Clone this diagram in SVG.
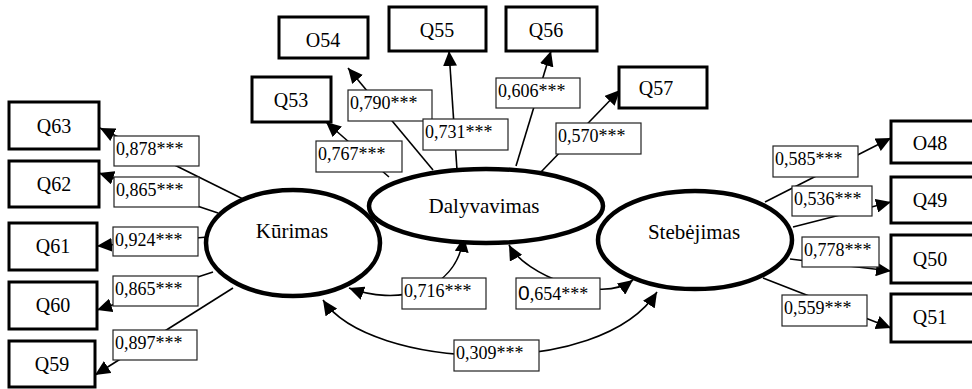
<svg xmlns="http://www.w3.org/2000/svg" width="972" height="389" viewBox="0 0 972 389" font-family="'Liberation Serif', 'Times New Roman', serif">
  <style>
    .box { fill: #fff; stroke: #000; stroke-width: 3; }
    .latent { fill: #fff; stroke: #000; stroke-width: 4.5; }
    .tag { fill: #fff; stroke: #222; stroke-width: 1.2; }
    .link { fill: none; stroke: #000; stroke-width: 1.6; }
    .arrow { marker-end: url(#head); }
    .both { marker-start: url(#head); marker-end: url(#head); }
    text { fill: #000; font-family: "Liberation Serif", "Times New Roman", serif; }
    .name { font-size: 20px; text-anchor: middle; }
    .lname { font-size: 21px; text-anchor: middle; }
    .coef { font-size: 18px; }
  </style>
  <defs>
    <marker id="head" markerUnits="userSpaceOnUse" markerWidth="16" markerHeight="14" refX="15" refY="7" orient="auto-start-reverse">
      <path d="M0,0 L15,7 L0,14 z" fill="#000"/>
    </marker>
  </defs>

  <rect width="972" height="389" fill="#fff"/>

  <!-- loadings and correlations -->
  <g id="connectors">
    <!-- Kūrimas indicators -->
    <path class="link arrow" d="M243,199 L100,128"/>
    <path class="link arrow" d="M218,213 L99,173"/>
    <path class="link arrow" d="M208,237 L97,246"/>
    <path class="link arrow" d="M213,272 L97,310"/>
    <path class="link arrow" d="M233,288 L95,375"/>
    <!-- Dalyvavimas indicators -->
    <path class="link arrow" d="M389,177 L326,122"/>
    <path class="link arrow" d="M433,170 L348,68"/>
    <path class="link arrow" d="M457,170 L449,51"/>
    <path class="link arrow" d="M516,166 L551,51"/>
    <path class="link arrow" d="M540,173 L620,90"/>
    <!-- Stebėjimas indicators -->
    <path class="link arrow" d="M765,202 L891,138"/>
    <path class="link arrow" d="M793,227 L891,202"/>
    <path class="link arrow" d="M790,259 L891,271"/>
    <path class="link arrow" d="M763,278 L891,328"/>
    <!-- correlations between factors -->
    <path class="link both" d="M349,288 C395,305 455,295 464,237"/>
    <path class="link both" d="M509,245 C525,275 600,305 633,280"/>
    <path class="link both" d="M323,300 C370,370 600,380 657,292"/>
  </g>

  <g id="coefficients">
    <rect class="tag" x="114" y="136" width="85" height="30"/><text class="coef" x="116" y="155">0,878***</text>
    <rect class="tag" x="114" y="177" width="85" height="30"/><text class="coef" x="116" y="196">0,865***</text>
    <rect class="tag" x="113" y="227" width="85" height="29"/><text class="coef" x="115" y="246">0,924***</text>
    <rect class="tag" x="113" y="276" width="85" height="30"/><text class="coef" x="115" y="295">0,865***</text>
    <rect class="tag" x="113" y="330" width="84" height="30"/><text class="coef" x="115" y="349">0,897***</text>

    <rect class="tag" x="316" y="141" width="86" height="31"/><text class="coef" x="318" y="160">0,767***</text>
    <rect class="tag" x="348" y="90" width="84" height="31"/><text class="coef" x="350" y="109">0,790***</text>
    <rect class="tag" x="423" y="119" width="85" height="31"/><text class="coef" x="425" y="138">0,731***</text>
    <rect class="tag" x="496" y="78" width="84" height="30"/><text class="coef" x="498" y="97">0,606***</text>
    <rect class="tag" x="556" y="123" width="85" height="31"/><text class="coef" x="558" y="142">0,570***</text>

    <rect class="tag" x="773" y="146" width="85" height="31"/><text class="coef" x="775" y="165">0,585***</text>
    <rect class="tag" x="792" y="186" width="80" height="30"/><text class="coef" x="794" y="205">0,536***</text>
    <rect class="tag" x="802" y="237" width="77" height="30"/><text class="coef" x="804" y="256">0,778***</text>
    <rect class="tag" x="782" y="295" width="85" height="31"/><text class="coef" x="784" y="314">0,559***</text>

    <rect class="tag" x="402" y="278" width="84" height="31"/><text class="coef" x="404" y="297">0,716***</text>
    <rect class="tag" x="516" y="278" width="84" height="31"/><text class="coef" x="518" y="300"><tspan style="font-family: 'Liberation Sans', Arial, sans-serif; font-size: 21px">0</tspan>,654***</text>
    <rect class="tag" x="454" y="340" width="85" height="31"/><text class="coef" x="456" y="359">0,309***</text>
  </g>

  <!-- latent factors -->
  <g id="kurimas">
    <ellipse class="latent" cx="293" cy="243" rx="87" ry="53"/>
    <text class="lname" x="292" y="238">Kūrimas</text>
  </g>
  <g id="dalyvavimas">
    <ellipse class="latent" cx="486" cy="206" rx="117" ry="37"/>
    <text class="lname" x="484" y="213">Dalyvavimas</text>
  </g>
  <g id="stebejimas">
    <ellipse class="latent" cx="695" cy="240" rx="97" ry="49"/>
    <text class="lname" x="694" y="239">Stebėjimas</text>
  </g>

  <!-- observed items -->
  <g id="q63"><rect class="box" x="9" y="102" width="90" height="47"/><text class="name" x="54" y="133">Q63</text></g>
  <g id="q62"><rect class="box" x="9" y="161" width="90" height="46"/><text class="name" x="54" y="191">Q62</text></g>
  <g id="q61"><rect class="box" x="9" y="223" width="88" height="47"/><text class="name" x="53" y="253">Q61</text></g>
  <g id="q60"><rect class="box" x="9" y="282" width="88" height="47"/><text class="name" x="53" y="312">Q60</text></g>
  <g id="q59"><rect class="box" x="9" y="341" width="86" height="46"/><text class="name" x="52" y="371">Q59</text></g>

  <g id="q53"><rect class="box" x="252" y="77" width="79" height="45"/><text class="name" x="291" y="107">Q53</text></g>
  <g id="o54"><rect class="box" x="279" y="17" width="89" height="41"/><text class="name" x="323" y="47">O54</text></g>
  <g id="q55"><rect class="box" x="389" y="7" width="97" height="44"/><text class="name" x="437" y="37">Q55</text></g>
  <g id="q56"><rect class="box" x="506" y="7" width="91" height="44"/><text class="name" x="546" y="37">Q56</text></g>
  <g id="q57"><rect class="box" x="619" y="67" width="88" height="41"/><text class="name" x="656" y="95">Q57</text></g>

  <g id="o48"><rect class="box" x="891" y="121" width="90" height="42"/><text class="name" x="930" y="150">O48</text></g>
  <g id="q49"><rect class="box" x="891" y="177" width="90" height="46"/><text class="name" x="930" y="207">Q49</text></g>
  <g id="q50"><rect class="box" x="891" y="235" width="90" height="48"/><text class="name" x="930" y="266">Q50</text></g>
  <g id="q51"><rect class="box" x="891" y="294" width="90" height="48"/><text class="name" x="930" y="324">Q51</text></g>
</svg>
